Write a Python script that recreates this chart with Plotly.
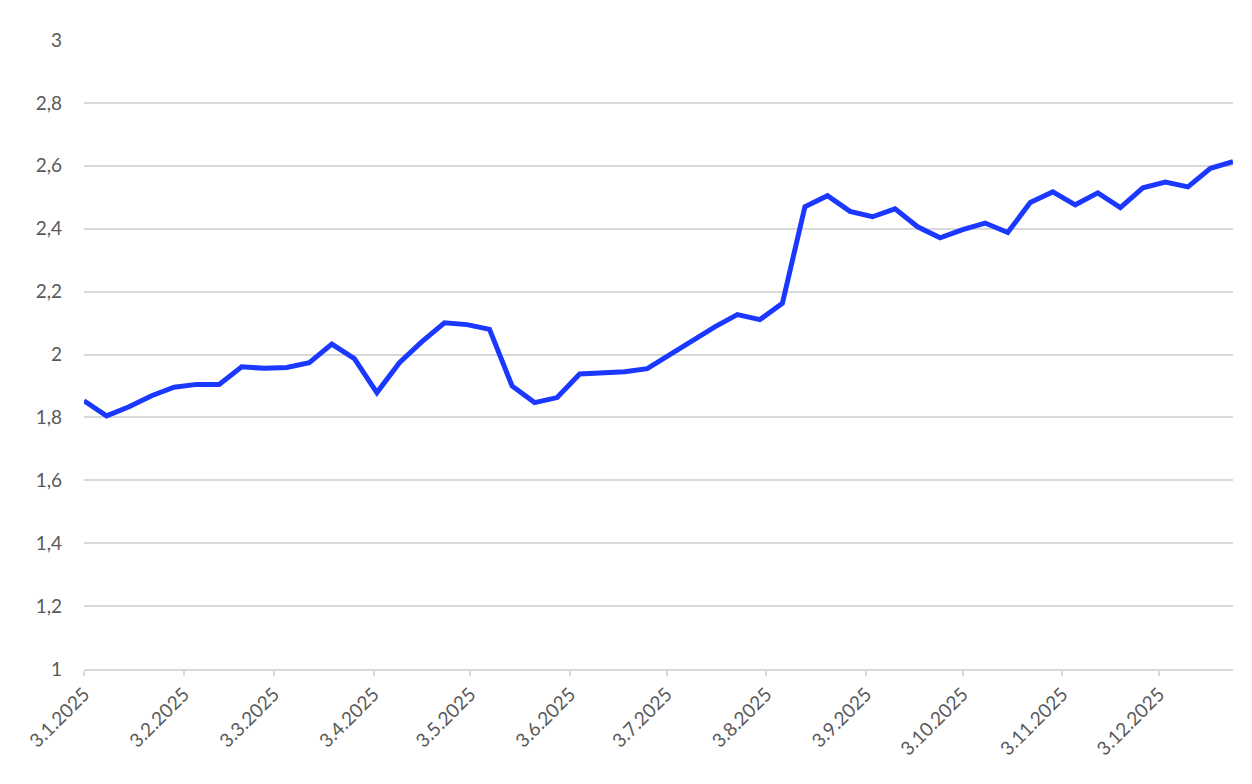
import pandas as pd
import plotly.graph_objects as go

# Weekly dates (Fridays) starting 3 Jan 2025
dates = pd.date_range("2025-01-03", periods=52, freq="7D")

values = [
    1.853, 1.805, 1.834, 1.869, 1.896, 1.905, 1.905, 1.961, 1.956, 1.959,
    1.974, 2.033, 1.987, 1.879, 1.974, 2.041, 2.101, 2.095, 2.080, 1.900,
    1.847, 1.863, 1.938, 1.942, 1.945, 1.955, 1.999, 2.042, 2.088, 2.127,
    2.111, 2.163, 2.470, 2.505, 2.455, 2.438, 2.463, 2.406, 2.371, 2.397,
    2.418, 2.388, 2.483, 2.517, 2.476, 2.514, 2.467, 2.530, 2.548, 2.533,
    2.592, 2.613,
]

tick_dates = pd.to_datetime([
    "2025-01-03", "2025-02-03", "2025-03-03", "2025-04-03", "2025-05-03",
    "2025-06-03", "2025-07-03", "2025-08-03", "2025-09-03", "2025-10-03",
    "2025-11-03", "2025-12-03",
])
tick_labels = [
    "3.1.2025", "3.2.2025", "3.3.2025", "3.4.2025", "3.5.2025", "3.6.2025",
    "3.7.2025", "3.8.2025", "3.9.2025", "3.10.2025", "3.11.2025", "3.12.2025",
]

y_ticks = [1, 1.2, 1.4, 1.6, 1.8, 2, 2.2, 2.4, 2.6, 2.8, 3]

fig = go.Figure()
fig.add_trace(go.Scatter(
    x=dates, y=values, mode="lines",
    line=dict(color="#1a38ff", width=5),
    hoverinfo="x+y",
))

grid = "#d9d9d9"
fig.update_layout(
    width=1244, height=776,
    margin=dict(l=76, r=19, t=32, b=115),
    plot_bgcolor="white", paper_bgcolor="white",
    separators=", ",
    showlegend=False,
    font=dict(family="Lato, 'Open Sans', sans-serif", size=19, color="#595959"),
    xaxis=dict(
        range=[dates[0], dates[-1]],
        tickvals=tick_dates, ticktext=tick_labels,
        tickangle=-45,
        showgrid=False, zeroline=False,
        showline=True, linecolor=grid, linewidth=1.5,
        ticks="outside", ticklen=5, tickcolor=grid, tickwidth=1.5,
        tickfont=dict(size=19, color="#595959"),
    ),
    yaxis=dict(
        range=[1, 3],
        tickvals=y_ticks,
        showgrid=True, gridcolor=grid, gridwidth=1.5,
        zeroline=False, showline=False,
        ticks="", ticklabelstandoff=21,
        tickfont=dict(size=19, color="#595959"),
    ),
)

fig.write_html("out.html")
